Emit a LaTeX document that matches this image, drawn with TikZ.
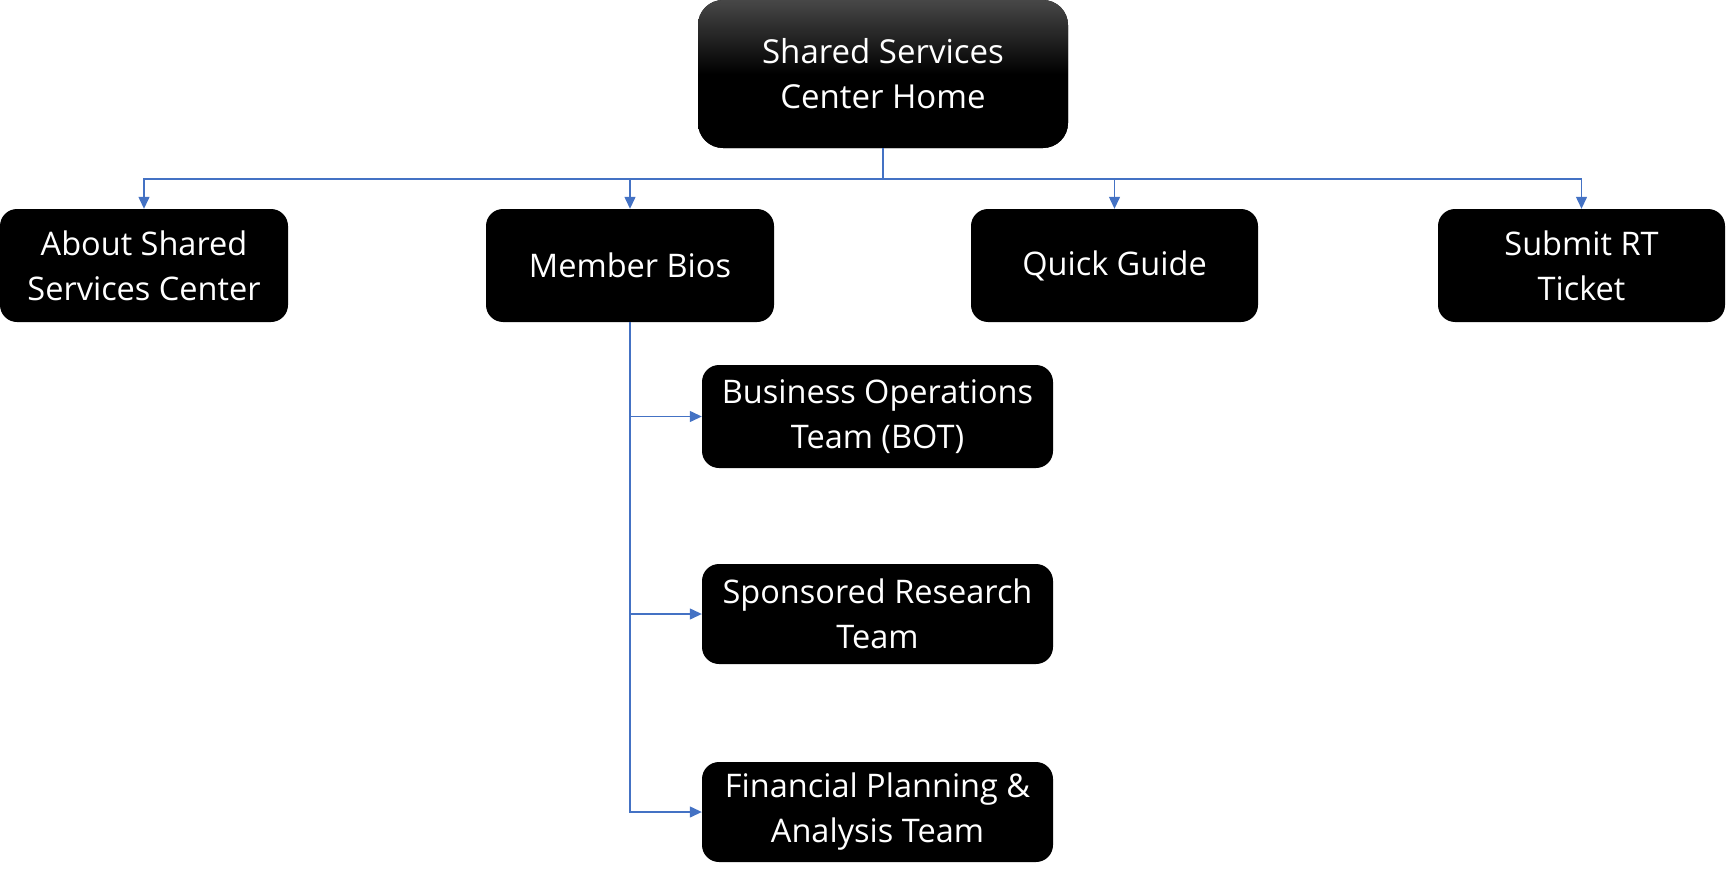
\documentclass[tikz,border=0pt]{standalone}
\usepackage{fontspec}
\setmainfont{Open Sans}
\usetikzlibrary{arrows.meta}
\definecolor{linkblue}{HTML}{4472C4}
\begin{document}
\begin{tikzpicture}[x=1pt,y=-1pt,
  box/.style={fill=black, text=white, rounded corners=17pt, align=center,
    inner sep=0pt, font=\fontsize{32.5}{45}\selectfont},
  topbox/.style={box, rounded corners=25pt, top color=black!72, bottom color=black, middle color=black,
    font=\fontsize{33}{45}\selectfont},
  link/.style={draw=linkblue, line width=1.3pt, -{Triangle[width=11pt,length=12pt]}}
]
\useasboundingbox (0,0) rectangle (1726,880);
\node[topbox, minimum width=370pt, minimum height=148pt] (home) at (883,74) {Shared Services\\Center Home};
\node[box, minimum width=288pt, minimum height=113pt] (about) at (144,265.5) {About Shared\\Services Center};
\node[box, minimum width=288pt, minimum height=113pt] (bios) at (630,265.5) {Member Bios};
\node[box, minimum width=287pt, minimum height=113pt] (guide) at (1114.5,265.5) {Quick Guide};
\node[box, minimum width=287pt, minimum height=113pt] (ticket) at (1581.5,265.5) {Submit RT\\Ticket};
\node[box, minimum width=351pt, minimum height=103pt] (bot) at (877.5,416.5) {Business Operations\\Team (BOT)};
\node[box, minimum width=351pt, minimum height=100pt] (srt) at (877.5,614) {Sponsored Research\\Team};
\node[box, minimum width=351pt, minimum height=100pt] (fpa) at (877.5,812) {Financial Planning \&\\Analysis Team};
\coordinate (bus) at (883,179);
\draw[link] (home.south) -- (bus) -| (about.north);
\draw[link] (bus) -| (bios.north);
\draw[link] (bus) -| (guide.north);
\draw[link] (bus) -| (ticket.north);
\draw[link] (bios.south) |- (bot.west);
\draw[link] (bios.south) |- (srt.west);
\draw[link] (bios.south) |- (fpa.west);
\end{tikzpicture}
\end{document}
